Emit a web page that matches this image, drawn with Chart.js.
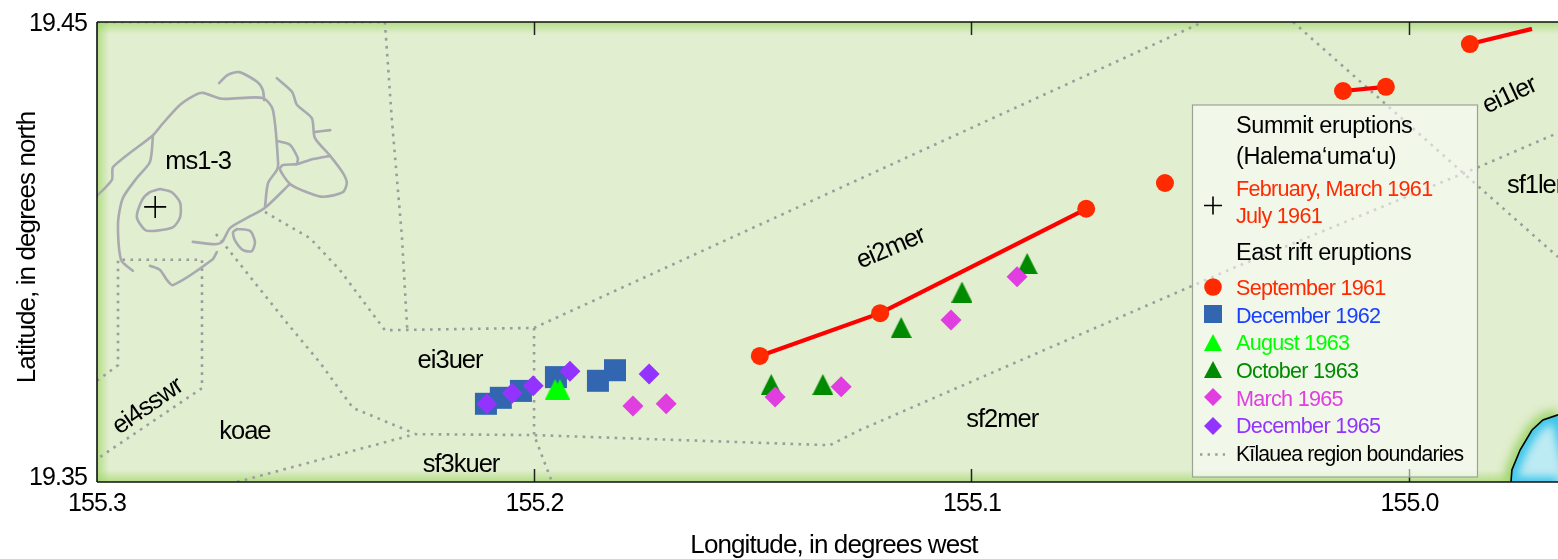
<!DOCTYPE html>
<html><head><meta charset="utf-8">
<script src="https://cdn.jsdelivr.net/npm/chart.js@4/dist/chart.umd.min.js"></script>
<style>html,body{margin:0;padding:0;background:#fff}canvas{display:block}</style>
</head><body><canvas id="c" width="1558" height="559"></canvas>
<script>
// ---- tick values and axis titles ----
const lonTicks=[155.3,155.2,155.1,155.0];
const latTicks=[19.35,19.45];
const lonTitle='Longitude, in degrees west';
const latTitle='Latitude, in degrees north';
const lonMin=154.96606, lonMax=155.3, latMin=19.35, latMax=19.45;

// ---- eruption vents [lon, lat] ----
const summit1961=[[155.2867,19.4098]];
const sep1961=[[155.1485,19.3774],[155.1210,19.3867],[155.0739,19.4094],[155.0559,19.4150],[155.0152,19.4350],[155.0054,19.4359],[154.9862,19.4452]];
const sep1961FissureA=[[155.1485,19.3774],[155.1210,19.3867],[155.0739,19.4094]];
const sep1961FissureB=[[155.0152,19.4350],[155.0054,19.4359]];
const sep1961FissureC=[[154.9862,19.4452],[154.9720,19.4485]];
const dec1962=[[155.2111,19.3670],[155.2077,19.3683],[155.2031,19.3698],[155.1951,19.3728],[155.1855,19.3720],[155.1816,19.3743]];
const aug1963=[[155.1953,19.3701],[155.1942,19.3701]];
const oct1963=[[155.1459,19.3712],[155.1341,19.3712],[155.1162,19.3836],[155.1023,19.3913],[155.0874,19.3975]];
const mar1965=[[155.1775,19.3665],[155.1699,19.3670],[155.1450,19.3685],[155.1299,19.3707],[155.1048,19.3852],[155.0897,19.3946]];
const dec1965=[[155.2109,19.3670],[155.2051,19.3693],[155.2003,19.3709],[155.1919,19.3741],[155.1738,19.3735]];

// ---- region boundaries (dotted) ----
const boundaryTop=[[155.3,19.45],[155.2342,19.45]];
const boundaryA=[[155.2342,19.45],[155.2326,19.4287],[155.2303,19.4033],[155.2291,19.3833]];
const boundaryB=[[155.2616,19.4087],[155.2513,19.4030],[155.2445,19.3961],[155.2342,19.3830],[155.2001,19.3835],[155.0472,19.45]];
const boundaryC=[[155.2001,19.3835],[155.2001,19.3602],[155.1960,19.35]];
const boundaryD=[[155.2680,19.35],[155.2273,19.3604],[155.2001,19.3602],[155.1325,19.3580],[155.1256,19.3613],[155.0403,19.3965],[154.9846,19.4183],[154.96606,19.4259]];
const boundaryE=[[155.2728,19.4039],[155.2712,19.4020],[155.2566,19.3846],[155.2490,19.3759],[155.2415,19.3661],[155.2278,19.3607]];
const boundaryF=[[155.3,19.3720],[155.2952,19.3754],[155.2952,19.3983],[155.2760,19.3983],[155.2760,19.3704],[155.3,19.3550]];
const boundaryG=[[155.0266,19.45],[154.96606,19.3989]];

// ---- caldera and fault traces (grey) ----
const rimMain=[[155.3002,19.4120],[155.2966,19.4157],[155.2963,19.4185],[155.2872,19.4254],[155.2849,19.4280],[155.2810,19.4320],[155.2776,19.4341],[155.2758,19.4346],[155.2714,19.4333],[155.2621,19.4335],[155.2598,19.4309],[155.2586,19.4193],[155.2589,19.4178],[155.2609,19.4150],[155.2616,19.4098]];
const rimWest=[[155.2872,19.4254],[155.2879,19.4196],[155.2909,19.4161],[155.2941,19.4117],[155.2952,19.4063],[155.2945,19.3983],[155.2918,19.3959]];
const crater=[[155.2856,19.4137],[155.2829,19.4130],[155.2810,19.4107],[155.2810,19.4076],[155.2826,19.4054],[155.2867,19.4046],[155.2890,19.4048],[155.2909,19.4076],[155.2897,19.4113],[155.2879,19.4130],[155.2856,19.4137]];
const arcNorth=[[155.2721,19.4367],[155.2701,19.4385],[155.2675,19.4391],[155.2634,19.4370],[155.2621,19.4352],[155.2618,19.4330]];
const rimEast=[[155.2589,19.4378],[155.2554,19.4348],[155.2543,19.4320],[155.2509,19.4291],[155.2502,19.4248],[155.2467,19.4209],[155.2438,19.4172],[155.2429,19.4150],[155.2438,19.4130],[155.2483,19.4120],[155.2520,19.4130],[155.2559,19.4148],[155.2582,19.4180],[155.2575,19.4189],[155.2543,19.4191],[155.2506,19.4202],[155.2467,19.4209]];
const spurEast=[[155.2502,19.4261],[155.2467,19.4265]];
const spurInner=[[155.2586,19.4241],[155.2559,19.4233],[155.2541,19.4204],[155.2543,19.4191]];
const rimSouth=[[155.2559,19.4148],[155.2616,19.4096],[155.2657,19.4074],[155.2696,19.4052],[155.2714,19.4022],[155.2730,19.4017],[155.2781,19.4022]];
const keanakako=[[155.2680,19.4050],[155.2650,19.4046],[155.2639,19.4022],[155.2646,19.4002],[155.2666,19.4004],[155.2685,19.4026],[155.2689,19.4043],[155.2680,19.4050]];
const rimSouthWest=[[155.2726,19.4000],[155.2737,19.3983],[155.2826,19.3928],[155.2840,19.3939],[155.2856,19.3961],[155.2879,19.3970]];

// ---- shoreline ----
const coast=[[154.9768,19.35],[154.9766,19.3526],[154.9747,19.3570],[154.9720,19.3613],[154.9695,19.3635],[154.96606,19.3646]];

// ---- region names ----
const regionNames=['ms1-3','ei3uer','koae','sf3kuer','ei4sswr','ei2mer','sf2mer','sf1ler','ei1ler'];
const regionLons=[155.2769,155.2193,155.2662,155.2168,155.2886,155.1187,155.0931,154.9713,154.9773];
const regionLats=[19.4198,19.3767,19.3611,19.3541,19.3667,19.4011,19.3639,19.4146,19.4343];
const regionAngles=[0,0,0,0,-35,-23,0,0,-25];

// ---- legend ----
const legendHeads=['Summit eruptions','(Halema\u2018uma\u2018u)','East rift eruptions'];
const legendSummit=['February, March 1961','July 1961'];
const legendEast=['September 1961','December 1962','August 1963','October 1963','March 1965','December 1965'];
const legendBoundary='K\u012Blauea region boundaries';

const RED='#ff2a00',RED_LINE='#ff0000',BLUE='#3366b0',BRIGHT='#00ff00',DARK='#008a00',MAG='#e03ee0',PUR='#9333ff',GREY='#9c9c9c',RIM='#a9a9b1';
const FONT='"Liberation Sans", Arial, sans-serif';

const xy=a=>a.map(p=>({x:p[0],y:p[1]}));
function tri(color){const c=document.createElement('canvas');c.width=21;c.height=21;const g=c.getContext('2d');g.fillStyle=color;g.beginPath();g.moveTo(10.5,0);g.lineTo(21,21);g.lineTo(0,21);g.closePath();g.fill();return c;}
const line=(d,color,w,extra)=>Object.assign({data:xy(d),showLine:true,pointRadius:0,borderColor:color,borderWidth:w,backgroundColor:'transparent',fill:false},extra||{});
const dotted=d=>line(d,GREY,2.6,{borderDash:[2.6,5.4]});
const rim=d=>line(d,RIM,2.6,{tension:0.25,borderCapStyle:'round',borderJoinStyle:'round'});
const pts=(d,style,r,color)=>({data:xy(d),showLine:false,pointStyle:style,pointRadius:r,pointBackgroundColor:color,pointBorderWidth:0,borderWidth:0});

const layers=[
 Object.assign(line(coast,'transparent',0,{fill:'start',backgroundColor:'#bdebf4'}),{label:'Ocean'}),
 dotted(boundaryTop),dotted(boundaryA),dotted(boundaryB),dotted(boundaryC),dotted(boundaryD),dotted(boundaryE),dotted(boundaryF),dotted(boundaryG),
 rim(rimMain),rim(rimWest),rim(crater),rim(arcNorth),rim(rimEast),rim(spurEast),rim(spurInner),rim(rimSouth),rim(keanakako),rim(rimSouthWest),
 line(sep1961FissureA,RED_LINE,4.2),line(sep1961FissureB,RED_LINE,4.2),line(sep1961FissureC,RED_LINE,4.2),
 pts(sep1961,'circle',9,RED),
 pts(dec1962,'rect',15.56,BLUE),
 pts(aug1963,tri(BRIGHT),10.5,BRIGHT),
 pts(oct1963,tri(DARK),10.5,DARK),
 pts(mar1965,'rectRot',10.5,MAG),
 pts(dec1965,'rectRot',10.5,PUR),
 Object.assign(pts(summit1961,'cross',11,'#000'),{pointBorderWidth:1.6,pointBorderColor:'#000'})
];
layers.forEach((d,i)=>{d.order=layers.length-i;});

function oceanPath(ctx,chart){
  const sx=chart.scales.x,sy=chart.scales.y;
  ctx.beginPath();
  coast.forEach((p,i)=>{const X=sx.getPixelForValue(p[0]),Y=sy.getPixelForValue(p[1]);i?ctx.lineTo(X,Y):ctx.moveTo(X,Y);});
}
function edgeGlow(ctx,a){
  const L=12,c0='rgba(150,212,90,0.62)',c1='rgba(150,212,90,0)';
  let g=ctx.createLinearGradient(a.left,0,a.left+L,0);g.addColorStop(0,c0);g.addColorStop(1,c1);ctx.fillStyle=g;ctx.fillRect(a.left,a.top,L,a.bottom-a.top);
  g=ctx.createLinearGradient(0,a.top,0,a.top+L);g.addColorStop(0,c0);g.addColorStop(1,c1);ctx.fillStyle=g;ctx.fillRect(a.left,a.top,a.right-a.left,L);
  g=ctx.createLinearGradient(0,a.bottom,0,a.bottom-L);g.addColorStop(0,c0);g.addColorStop(1,c1);ctx.fillStyle=g;ctx.fillRect(a.left,a.bottom-L,a.right-a.left,L);
}
const mapPlugin={id:'map',
 beforeDraw(chart){chart.ctx.letterSpacing='-0.9px';},
 beforeDatasetsDraw(chart){
  const ctx=chart.ctx,a=chart.chartArea;
  ctx.save();
  ctx.fillStyle='#e1eecf';ctx.fillRect(a.left,a.top,a.right-a.left,a.bottom-a.top);
  edgeGlow(ctx,a);
  ctx.beginPath();ctx.rect(a.left,a.top,a.right-a.left,a.bottom-a.top);ctx.clip();
  ctx.filter='blur(5px)';ctx.strokeStyle='rgba(140,205,80,0.8)';ctx.lineWidth=12;oceanPath(ctx,chart);ctx.stroke();ctx.filter='none';
  ctx.restore();
 },
 afterDatasetDraw(chart,args){
  if(chart.data.datasets[args.index].label!=='Ocean')return;
  const ctx=chart.ctx,a=chart.chartArea;
  ctx.save();
  oceanPath(ctx,chart);ctx.lineTo(a.right,a.bottom);ctx.closePath();ctx.clip();
  ctx.filter='blur(4px)';ctx.strokeStyle='#3cc6e9';ctx.lineWidth=14;
  oceanPath(ctx,chart);ctx.lineTo(a.right+20,a.bottom+20);ctx.stroke();
  ctx.beginPath();ctx.moveTo(a.left,a.bottom+2);ctx.lineTo(a.right,a.bottom+2);ctx.stroke();
  ctx.filter='none';
  ctx.restore();
  ctx.save();ctx.strokeStyle='#000';ctx.lineWidth=1.6;oceanPath(ctx,chart);ctx.stroke();ctx.restore();
 },
 afterDatasetsDraw(chart){
  const ctx=chart.ctx,a=chart.chartArea,sx=chart.scales.x,sy=chart.scales.y;
  ctx.save();
  ctx.beginPath();ctx.rect(a.left,a.top,a.right-a.left,a.bottom-a.top);ctx.clip();
  ctx.fillStyle='#000';ctx.textAlign='center';ctx.textBaseline='middle';ctx.font='25.5px '+FONT;ctx.letterSpacing='-1px';
  regionNames.forEach((n,i)=>{ctx.save();ctx.translate(sx.getPixelForValue(regionLons[i]),sy.getPixelForValue(regionLats[i]));ctx.rotate(regionAngles[i]*Math.PI/180);ctx.fillText(n,0,1.5);ctx.restore();});
  ctx.restore();
  // ticks and frame
  ctx.save();
  ctx.strokeStyle='#222';ctx.lineWidth=1.5;ctx.beginPath();
  lonTicks.slice(1).forEach(v=>{const X=Math.round(sx.getPixelForValue(v))-.5;ctx.moveTo(X,a.top);ctx.lineTo(X,a.top+13);ctx.moveTo(X,a.bottom);ctx.lineTo(X,a.bottom-13);});
  ctx.stroke();
  ctx.strokeStyle='#111';ctx.lineWidth=1.6;ctx.beginPath();ctx.moveTo(a.left,a.top);ctx.lineTo(a.right,a.top);ctx.moveTo(a.left,a.top);ctx.lineTo(a.left,a.bottom);ctx.moveTo(a.left,a.bottom);ctx.lineTo(a.right,a.bottom);ctx.stroke();
  ctx.restore();
  drawLegend(ctx);
 }
};
function drawLegend(ctx){
  ctx.save();
  ctx.fillStyle='rgba(255,255,255,0.55)';ctx.fillRect(1192.5,105,285,372);
  ctx.strokeStyle='#9ba394';ctx.lineWidth=1.2;ctx.strokeRect(1192.5,105,285,372);
  ctx.textAlign='left';ctx.textBaseline='middle';
  const T=(s,y,size,color,ls)=>{ctx.font=size+'px '+FONT;ctx.letterSpacing=ls+'px';ctx.fillStyle=color;ctx.fillText(s,1236,y+1.5);};
  T(legendHeads[0],125,23.5,'#000',-0.4);T(legendHeads[1],156,23.5,'#000',-0.4);
  T(legendSummit[0],189,21.6,RED,-0.72);T(legendSummit[1],216,21.6,RED,-0.72);
  T(legendHeads[2],252,23.5,'#000',-0.4);
  const cols=[RED,'#1a40ff',BRIGHT,DARK,MAG,PUR],ys=[288,316,343,371,399,426];
  legendEast.forEach((s,i)=>T(s,ys[i],21.6,cols[i],-0.72));
  T(legendBoundary,454,21.2,'#000',-0.8);
  // symbols
  const mx=1213;
  ctx.strokeStyle='#000';ctx.lineWidth=1.6;ctx.beginPath();ctx.moveTo(mx-9,205.5);ctx.lineTo(mx+9,205.5);ctx.moveTo(mx,196.5);ctx.lineTo(mx,214.5);ctx.stroke();
  ctx.fillStyle=RED;ctx.beginPath();ctx.arc(mx,287,8.8,0,Math.PI*2);ctx.fill();
  ctx.fillStyle=BLUE;ctx.fillRect(mx-9,305,18,18);
  const trig=(y,c)=>{ctx.fillStyle=c;ctx.beginPath();ctx.moveTo(mx,y-9);ctx.lineTo(mx+9,y+8);ctx.lineTo(mx-9,y+8);ctx.closePath();ctx.fill();};
  trig(343,BRIGHT);trig(370,DARK);
  const dia=(y,c)=>{ctx.fillStyle=c;ctx.beginPath();ctx.moveTo(mx,y-9);ctx.lineTo(mx+9,y);ctx.lineTo(mx,y+9);ctx.lineTo(mx-9,y);ctx.closePath();ctx.fill();};
  dia(397,MAG);dia(426,PUR);
  ctx.strokeStyle=GREY;ctx.lineWidth=2.4;ctx.setLineDash([2.4,5.2]);ctx.beginPath();ctx.moveTo(1200,454.5);ctx.lineTo(1225,454.5);ctx.stroke();
  ctx.restore();
}
function shiftDraw(scale,method,dx,dy){
  const key='__shift_'+method;
  if(scale[key])return;scale[key]=true;
  const o=scale[method];
  scale[method]=function(){this.ctx.save();this.ctx.translate(dx,dy);o.apply(this,arguments);this.ctx.restore();};
}
function noPadding(s){s._calculatePadding=function(){this.paddingLeft=0;this.paddingRight=0;this.paddingTop=0;this.paddingBottom=0;};}
new Chart(document.getElementById('c'),{
 type:'scatter',
 data:{datasets:layers},
 plugins:[mapPlugin],
 options:{
  responsive:false,animation:false,events:[],
  layout:{autoPadding:false,padding:{top:22,left:0,right:0,bottom:0}},
  plugins:{legend:{display:false},tooltip:{enabled:false},title:{display:false}},
  scales:{
   x:{type:'linear',reverse:true,min:lonMin,max:lonMax,
    afterBuildTicks(s){s.ticks=lonTicks.map(v=>({value:v}));},
    beforeFit:noPadding,
    afterFit(s){s.height=77;s.paddingLeft=0;s.paddingRight=0;},
    afterUpdate(s){shiftDraw(s,'drawTitle',6.5,2);},
    grid:{display:false,drawTicks:false},border:{display:false},
    ticks:{padding:7,color:'#000',maxRotation:0,autoSkip:false,font:{family:FONT,size:25},callback:v=>v.toFixed(1)},
    title:{display:true,text:lonTitle,color:'#000',font:{family:FONT,size:26},padding:{top:12,bottom:0}}
   },
   y:{type:'linear',min:latMin,max:latMax,
    afterBuildTicks(s){s.ticks=latTicks.map(v=>({value:v}));},
    beforeFit:noPadding,
    afterFit(s){s.width=97;s.paddingTop=0;s.paddingBottom=0;},
    afterUpdate(s){shiftDraw(s,'drawTitle',2,-4.5);shiftDraw(s,'drawLabels',0,2);},
    grid:{display:false,drawTicks:false},border:{display:false},
    ticks:{padding:10,color:'#000',autoSkip:false,
      font:c=>c.index===0?{family:FONT,size:25,lineHeight:'12px'}:{family:FONT,size:25},
      callback:(v,i)=>i===0?[v.toFixed(2),'']:v.toFixed(2)},
    title:{display:true,text:latTitle,color:'#000',font:{family:FONT,size:26},padding:{top:10,bottom:0}}
   }
  }
 }
});
</script></body></html>
